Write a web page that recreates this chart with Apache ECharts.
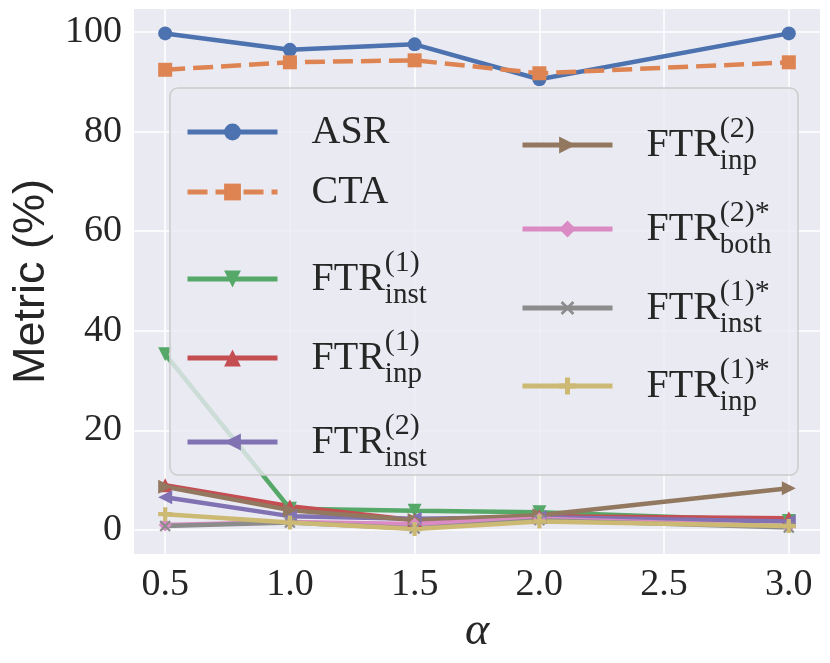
<!DOCTYPE html>
<html>
<head>
<meta charset="utf-8">
<script src="https://cdn.jsdelivr.net/npm/echarts@6/dist/echarts.min.js"></script>
<style>
  html, body { margin: 0; padding: 0; background: #fff; }
  #chart { width: 830px; height: 663px; }
</style>
</head>
<body>
<div id="chart"></div>
<script>
// data
var alpha = [0.5, 1.0, 1.5, 2.0, 3.0];
var asr = [99.7, 96.4, 97.5, 90.5, 99.7];
var cta = [92.4, 93.9, 94.3, 91.7, 93.9];
var ftrInst1 = [35.3, 4.3, 3.9, 3.6, 1.8];
var ftrInp1 = [9.0, 4.8, 2.0, 2.8, 2.4];
var ftrInst2 = [6.6, 2.8, 2.3, 2.6, 1.7];
var ftrInp2 = [8.7, 4.0, 2.0, 3.0, 8.4];
var ftrBoth2s = [1.0, 1.6, 1.2, 2.3, 0.7];
var ftrInst1s = [0.8, 1.5, 0.3, 2.0, 0.5];
var ftrInp1s = [3.2, 1.5, 0.2, 1.7, 0.8];

var xTicks = [0.5, 1.0, 1.5, 2.0, 2.5, 3.0];
var yTicks = [0, 20, 40, 60, 80, 100];

var names = ['ASR', 'CTA', 'FTR_inst1', 'FTR_inp1', 'FTR_inst2', 'FTR_inp2', 'FTR_both2s', 'FTR_inst1s', 'FTR_inp1s'];
var values = [asr, cta, ftrInst1, ftrInp1, ftrInst2, ftrInp2, ftrBoth2s, ftrInst1s, ftrInp1s];
// seaborn "deep"
var colors = ['#4C72B0', '#DD8452', '#55A868', '#C44E52', '#8172B3', '#937860', '#DA8BC3', '#8C8C8C', '#CCB974'];
// label pieces: [main, sup, sub]
var labels = [
    ['ASR'], ['CTA'],
    ['FTR', '(1)', 'inst'], ['FTR', '(1)', 'inp'], ['FTR', '(2)', 'inst'],
    ['FTR', '(2)', 'inp'], ['FTR', '(2)*', 'both'], ['FTR', '(1)*', 'inst'], ['FTR', '(1)*', 'inp']
];

var plus = 'path://M3.5,0H6.5V3.5H10V6.5H6.5V10H3.5V6.5H0V3.5H3.5Z';
var thinPlus = 'path://M4.2,0H5.8V4.2H10V5.8H5.8V10H4.2V5.8H0V4.2H4.2Z';
var marks = [
    { symbol: 'circle', rot: 0 },
    { symbol: 'rect', rot: 0 },
    { symbol: 'triangle', rot: 180 },
    { symbol: 'triangle', rot: 0 },
    { symbol: 'triangle', rot: 90 },
    { symbol: 'triangle', rot: -90 },
    { symbol: 'path://M5,0L10,5L5,10L0,5Z', rot: 0 },
    { symbol: thinPlus, rot: 45 },
    { symbol: plus, rot: 0 }
];

// legend item centres
var legendPos = [
    [185, 136], [185, 196], [185, 267], [185, 346], [185, 430],
    [520, 133], [520, 217], [520, 296], [520, 374]
];

var serif = '"Liberation Serif", "DejaVu Serif", serif';

function legendText(name) {
    var l = labels[names.indexOf(name)];
    if (l.length == 1) return '{solo|' + l[0] + '}';
    return '{ph|' + l[0] + '}{sup|' + l[1] + '}\n{main|' + l[0] + '}\n{ph|' + l[0] + '}{sub|' + l[2] + '}';
}

var series = names.map(function(n, i) {
    return {
        name: n,
        type: 'line',
        z: 1,
        data: alpha.map(function(a, j) { return [a, values[i][j]]; }),
        symbol: marks[i].symbol,
        symbolRotate: marks[i].rot,
        symbolSize: i == 6 ? 13 : 14,
        showSymbol: true,
        color: colors[i],
        lineStyle: { width: 4.5, color: colors[i], type: i == 1 ? [20, 8] : 'solid' },
        itemStyle: { color: colors[i] },
        emphasis: { disabled: true }
    };
});

var legends = names.map(function(n, i) {
    return {
        data: [n],
        z: 6,
        left: legendPos[i][0],
        top: legendPos[i][1] - 24,
        padding: 0,
        itemWidth: 90,
        itemHeight: 21,
        lineStyle: { width: 5 },
        formatter: legendText,
        textStyle: {
            padding: [0, 0, 0, 29],
            color: '#262626',
            fontFamily: serif,
            rich: {
                solo: { fontSize: 40, lineHeight: 48, fontFamily: serif, color: '#262626' },
                main: { fontSize: 40, lineHeight: 16, fontFamily: serif, color: '#262626' },
                ph: { fontSize: 40, lineHeight: 16, fontFamily: serif, color: 'transparent' },
                sup: { fontSize: 30, lineHeight: 16, fontFamily: serif, color: '#262626' },
                sub: { fontSize: 29, lineHeight: 16, fontFamily: serif, color: '#262626' }
            }
        }
    };
});

var chart = echarts.init(document.getElementById('chart'), null, { renderer: 'canvas' });
chart.setOption({
    animation: false,
    backgroundColor: '#ffffff',
    grid: {
        left: 134, top: 9, right: 10, bottom: 109,
        show: true, backgroundColor: '#EAEAF2', borderWidth: 0
    },
    graphic: {
        elements: [{
            type: 'rect',
            z: 5,
            zlevel: 0,
            shape: { x: 170, y: 88, width: 628, height: 387, r: 8 },
            style: { fill: 'rgba(234,234,242,0.8)', stroke: '#cccccc', lineWidth: 1.5 }
        }]
    },
    legend: legends,
    xAxis: {
        type: 'value',
        min: 0.375,
        max: 3.125,
        name: 'α',
        nameLocation: 'middle',
        nameGap: 52,
        nameTextStyle: { fontFamily: serif, fontStyle: 'italic', fontSize: 46, color: '#262626' },
        axisLine: { show: false },
        axisTick: { show: false, customValues: xTicks },
        axisLabel: {
            customValues: xTicks,
            margin: 12,
            fontFamily: serif, fontSize: 38, color: '#262626',
            formatter: function(v) { return v.toFixed(1); }
        },
        splitLine: { show: true, lineStyle: { color: '#ffffff', width: 1.5 } }
    },
    yAxis: {
        type: 'value',
        min: -4.8,
        max: 104.6,
        name: 'Metric (%)',
        nameLocation: 'middle',
        nameRotate: 90,
        nameGap: 78,
        nameTextStyle: { fontFamily: '"Liberation Sans", Arial, sans-serif', fontSize: 45, color: '#262626' },
        axisLine: { show: false },
        axisTick: { show: false, customValues: yTicks },
        axisLabel: {
            customValues: yTicks,
            margin: 12,
            fontFamily: serif, fontSize: 38, color: '#262626'
        },
        splitLine: { show: true, lineStyle: { color: '#ffffff', width: 1.5 } }
    },
    series: series
});
</script>
</body>
</html>
